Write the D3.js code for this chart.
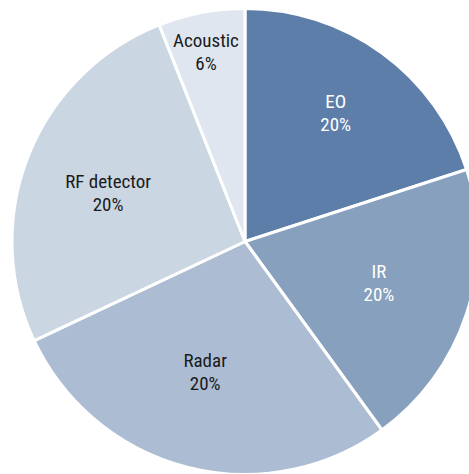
<!DOCTYPE html>
<html>
<head>
<meta charset="utf-8">
<script src="https://cdn.jsdelivr.net/npm/d3@7"></script>
<style>
  html, body { margin: 0; padding: 0; background: #fff; }
  svg { display: block; }
  text { font-family: "Roboto Condensed", "DejaVu Sans Condensed", sans-serif; font-size: 19px; font-weight: 400; }
</style>
</head>
<body>
<div id="chart"></div>
<script>
// slice shares as drawn, and the labels printed on them
var categories = ["EO", "IR", "Radar", "RF detector", "Acoustic"];
var values = [20, 20, 28, 26, 6];
var pctLabels = ["20%", "20%", "20%", "20%", "6%"];

var colors = ["#5d7ea8", "#87a0bd", "#acbdd3", "#cbd6e3", "#dfe6ef"];
var textColors = ["#ffffff", "#ffffff", "#1a1a1a", "#1a1a1a", "#1a1a1a"];
// hand tweaks so labels sit where the original put them (px)
var labelNudge = [[6, -6], [-3, 3.5], [-4, -2], [-3, 11], [-4, 1]];

var width = 469,
    height = 474,
    radius = 233;

var data = categories.map(function (c, i) {
  return { name: c, value: values[i], pct: pctLabels[i], color: colors[i], text: textColors[i], nudge: labelNudge[i] };
});

var svg = d3.select("#chart").append("svg")
    .attr("width", width)
    .attr("height", height);

var g = svg.append("g")
    .attr("transform", "translate(245,241.5)");

var pie = d3.pie()
    .sort(null)
    .value(function (d) { return d.value; });

var arc = d3.arc()
    .innerRadius(0)
    .outerRadius(radius);

var arcs = pie(data);

g.selectAll("path")
    .data(arcs)
  .enter().append("path")
    .attr("d", arc)
    .attr("fill", function (d) { return d.data.color; })
    .attr("stroke", "#fff")
    .attr("stroke-width", 3)
    .attr("stroke-linejoin", "miter");

// small slices get their label pushed further out
function labelPos(d) {
  var r = (d.endAngle - d.startAngle) < 0.5 ? 187 : 144;
  var c = d3.arc().innerRadius(r).outerRadius(r).centroid(d);
  return [c[0] + d.data.nudge[0], c[1] + d.data.nudge[1]];
}

var labels = g.selectAll("g.label")
    .data(arcs)
  .enter().append("g")
    .attr("class", "label")
    .attr("transform", function (d) { return "translate(" + labelPos(d) + ")"; });

labels.append("text")
    .attr("text-anchor", "middle")
    .attr("y", -11.5)
    .attr("fill", function (d) { return d.data.text; })
    .text(function (d) { return d.data.name; });

labels.append("text")
    .attr("text-anchor", "middle")
    .attr("y", 11.5)
    .attr("fill", function (d) { return d.data.text; })
    .text(function (d) { return d.data.pct; });
</script>
</body>
</html>
